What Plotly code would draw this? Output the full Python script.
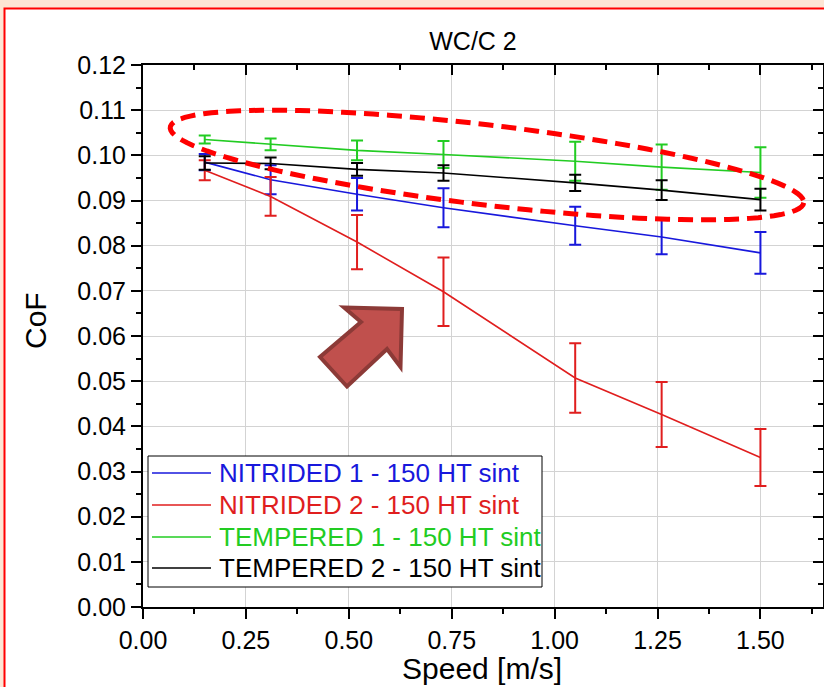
import numpy as np
import plotly.graph_objects as go

# ---------------- data ----------------
speed = [0.15, 0.31, 0.52, 0.73, 1.05, 1.26, 1.50]

nitrided1 = [0.0985, 0.0946, 0.0914, 0.0884, 0.0844, 0.0819, 0.0784]
nitrided1_err = [0.0018, 0.0032, 0.0036, 0.0043, 0.0042, 0.0038, 0.0046]

nitrided2 = [0.0967, 0.0909, 0.0808, 0.0698, 0.0507, 0.0426, 0.0331]
nitrided2_err = [0.0022, 0.0043, 0.0060, 0.0076, 0.0077, 0.0072, 0.0063]

tempered1 = [0.1035, 0.1024, 0.1011, 0.1002, 0.0987, 0.0974, 0.0962]
tempered1_err = [0.0009, 0.0013, 0.0022, 0.0030, 0.0043, 0.0050, 0.0056]

tempered2 = [0.0983, 0.0982, 0.0969, 0.0961, 0.0939, 0.0923, 0.0902]
tempered2_err = [0.0015, 0.0013, 0.0014, 0.0017, 0.0018, 0.0022, 0.0024]

series_names = ["NITRIDED 1 - 150 HT sint", "NITRIDED 2 - 150 HT sint",
                "TEMPERED 1 - 150 HT sint", "TEMPERED 2 - 150 HT sint"]
series_colors = ["#1818DC", "#E01E1E", "#22CC22", "#000000"]

x_ticks = [0.0, 0.25, 0.5, 0.75, 1.0, 1.25, 1.5]
y_ticks = [round(0.01 * i, 2) for i in range(13)]

# ---------------- layout geometry ----------------
W, H = 824, 687
L, R, T, B = 143, 1, 65, 80
X_RANGE = [0, 1.652]
Y_RANGE = [0, 0.12]
PW, PH = W - L - R, H - T - B
FONT = "Arial, Liberation Sans, sans-serif"
PEACH = "#FDE5D4"


def to_data(px, py):
    return ((px - L) / PW * (X_RANGE[1] - X_RANGE[0]) + X_RANGE[0],
            (H - B - py) / PH * (Y_RANGE[1] - Y_RANGE[0]) + Y_RANGE[0])


def to_paper(px, py):
    return (px - L) / PW, (H - B - py) / PH


def path_from_pixels(pts, close=True):
    s = ""
    for i, (px, py) in enumerate(pts):
        xd, yd = to_data(px, py)
        s += ("M" if i == 0 else "L") + f"{xd:.5f},{yd:.6f} "
    return s + ("Z" if close else "")


fig = go.Figure()

data = [(nitrided1, nitrided1_err), (nitrided2, nitrided2_err),
        (tempered1, tempered1_err), (tempered2, tempered2_err)]
for (vals, errs), name, col in zip(data, series_names, series_colors):
    fig.add_trace(go.Scatter(
        x=speed, y=vals, mode="lines",
        line=dict(color=col, width=1.6),
        error_y=dict(type="data", array=errs, visible=True, color=col,
                     thickness=2, width=6),
        name=name, showlegend=False,
    ))

# dummy trace to activate mirrored (inside-tick) axes
fig.add_trace(go.Scatter(x=[None], y=[None], xaxis="x2", yaxis="y2",
                         showlegend=False, hoverinfo="skip"))

axis_common = dict(showline=True, linewidth=2, linecolor="black",
                   zeroline=False, tickcolor="black", tickwidth=2)

fig.update_layout(
    width=W, height=H,
    margin=dict(l=L, r=R, t=T, b=B),
    paper_bgcolor=PEACH,
    plot_bgcolor="white",
    font=dict(family=FONT, color="black"),
    title=dict(text="WC/C 2", x=473 / W, y=1 - 41 / H, xref="container",
               yref="container", xanchor="center", yanchor="middle",
               font=dict(size=25, family=FONT, color="black")),
    xaxis=dict(range=X_RANGE, tickvals=x_ticks, tickformat=".2f",
               ticks="outside", ticklen=10, showgrid=True, gridcolor="#D3D3D3",
               gridwidth=1, tickfont=dict(size=25),
               minor=dict(tick0=0, dtick=0.125, ticks="outside", ticklen=5,
                          tickwidth=2, tickcolor="black", showgrid=False),
               **axis_common),
    yaxis=dict(range=Y_RANGE, tickvals=y_ticks, tickformat=".2f",
               ticks="outside", ticklen=10, showgrid=True, gridcolor="#D3D3D3",
               gridwidth=1, tickfont=dict(size=25),
               minor=dict(tick0=0, dtick=0.005, ticks="outside", ticklen=5,
                          tickwidth=2, tickcolor="black", showgrid=False),
               **axis_common),
    xaxis2=dict(range=X_RANGE, overlaying="x", side="top", tickvals=x_ticks,
                ticks="inside", ticklen=10, showticklabels=False, showgrid=False,
                minor=dict(tick0=0, dtick=0.125, ticks="inside", ticklen=5,
                           tickwidth=2, tickcolor="black", showgrid=False),
                **axis_common),
    yaxis2=dict(range=Y_RANGE, overlaying="y", side="right", tickvals=y_ticks,
                ticks="inside", ticklen=10, showticklabels=False, showgrid=False,
                minor=dict(tick0=0, dtick=0.005, ticks="inside", ticklen=5,
                           tickwidth=2, tickcolor="black", showgrid=False),
                **axis_common),
    showlegend=False,
)

# axis titles
cx, cy = to_paper(35, 321)
fig.add_annotation(text="CoF", x=cx, y=cy, xref="paper", yref="paper",
                   textangle=-90, showarrow=False, font=dict(size=30),
                   xanchor="center", yanchor="middle")
sx, sy = to_paper(482, 668)
fig.add_annotation(text="Speed [m/s]", x=sx, y=sy, xref="paper", yref="paper",
                   showarrow=False, font=dict(size=30),
                   xanchor="center", yanchor="middle")

# page frame: white panel with red border over peach background
x0, y0 = to_paper(4.5, 8.5)
x1, y1 = to_paper(W + 20, H + 20)
fig.add_shape(type="rect", xref="paper", yref="paper", x0=x0, y0=y0, x1=x1, y1=y1,
              fillcolor="white", line=dict(color="#FF0000", width=2), layer="below")

# legend box (drawn in paper space)
lx0, ly0 = to_paper(148, 456)
lx1, ly1 = to_paper(542, 587)
fig.add_shape(type="rect", xref="paper", yref="paper", x0=lx0, y0=ly1, x1=lx1, y1=ly0,
              fillcolor="white", line=dict(color="black", width=1))
row_y = [473, 505, 537, 568]
for name, col, ry in zip(series_names, series_colors, row_y):
    a0, b0 = to_paper(152, ry)
    a1, _ = to_paper(211, ry)
    fig.add_shape(type="line", xref="paper", yref="paper", x0=a0, y0=b0, x1=a1, y1=b0,
                  line=dict(color=col, width=1.6))
    tx, ty = to_paper(217, ry)
    fig.add_annotation(text=name, x=tx, y=ty, xref="paper", yref="paper",
                       showarrow=False, xanchor="left", yanchor="middle",
                       font=dict(size=26, color=col))

# dashed ellipse highlight
ecx, ecy, ea, eb, eth = 487, 165, 319, 40, np.deg2rad(6.8)
t = np.linspace(0, 2 * np.pi, 120)
ex = ecx + ea * np.cos(t) * np.cos(eth) - eb * np.sin(t) * np.sin(eth)
ey = ecy + ea * np.cos(t) * np.sin(eth) + eb * np.sin(t) * np.cos(eth)
fig.add_shape(type="path", xref="x", yref="y",
              path=path_from_pixels(list(zip(ex, ey))),
              line=dict(color="#FF0000", width=5, dash="15px,8px"))

# block arrow
arrow_px = [(344, 307.5), (402, 309), (400.5, 367), (387, 349), (347, 386.5),
            (320, 357), (361, 322)]
fig.add_shape(type="path", xref="x", yref="y", path=path_from_pixels(arrow_px),
              fillcolor="#C0504D", line=dict(color="#8C3A37", width=4))

fig.write_html(
    "out.html",
    config={"displayModeBar": False},
    post_script=("document.body.style.margin='0';"
                 "document.body.style.padding='0';"
                 f"document.body.style.background='{PEACH}';"
                 "document.documentElement.style.overflow='hidden';"),
)
